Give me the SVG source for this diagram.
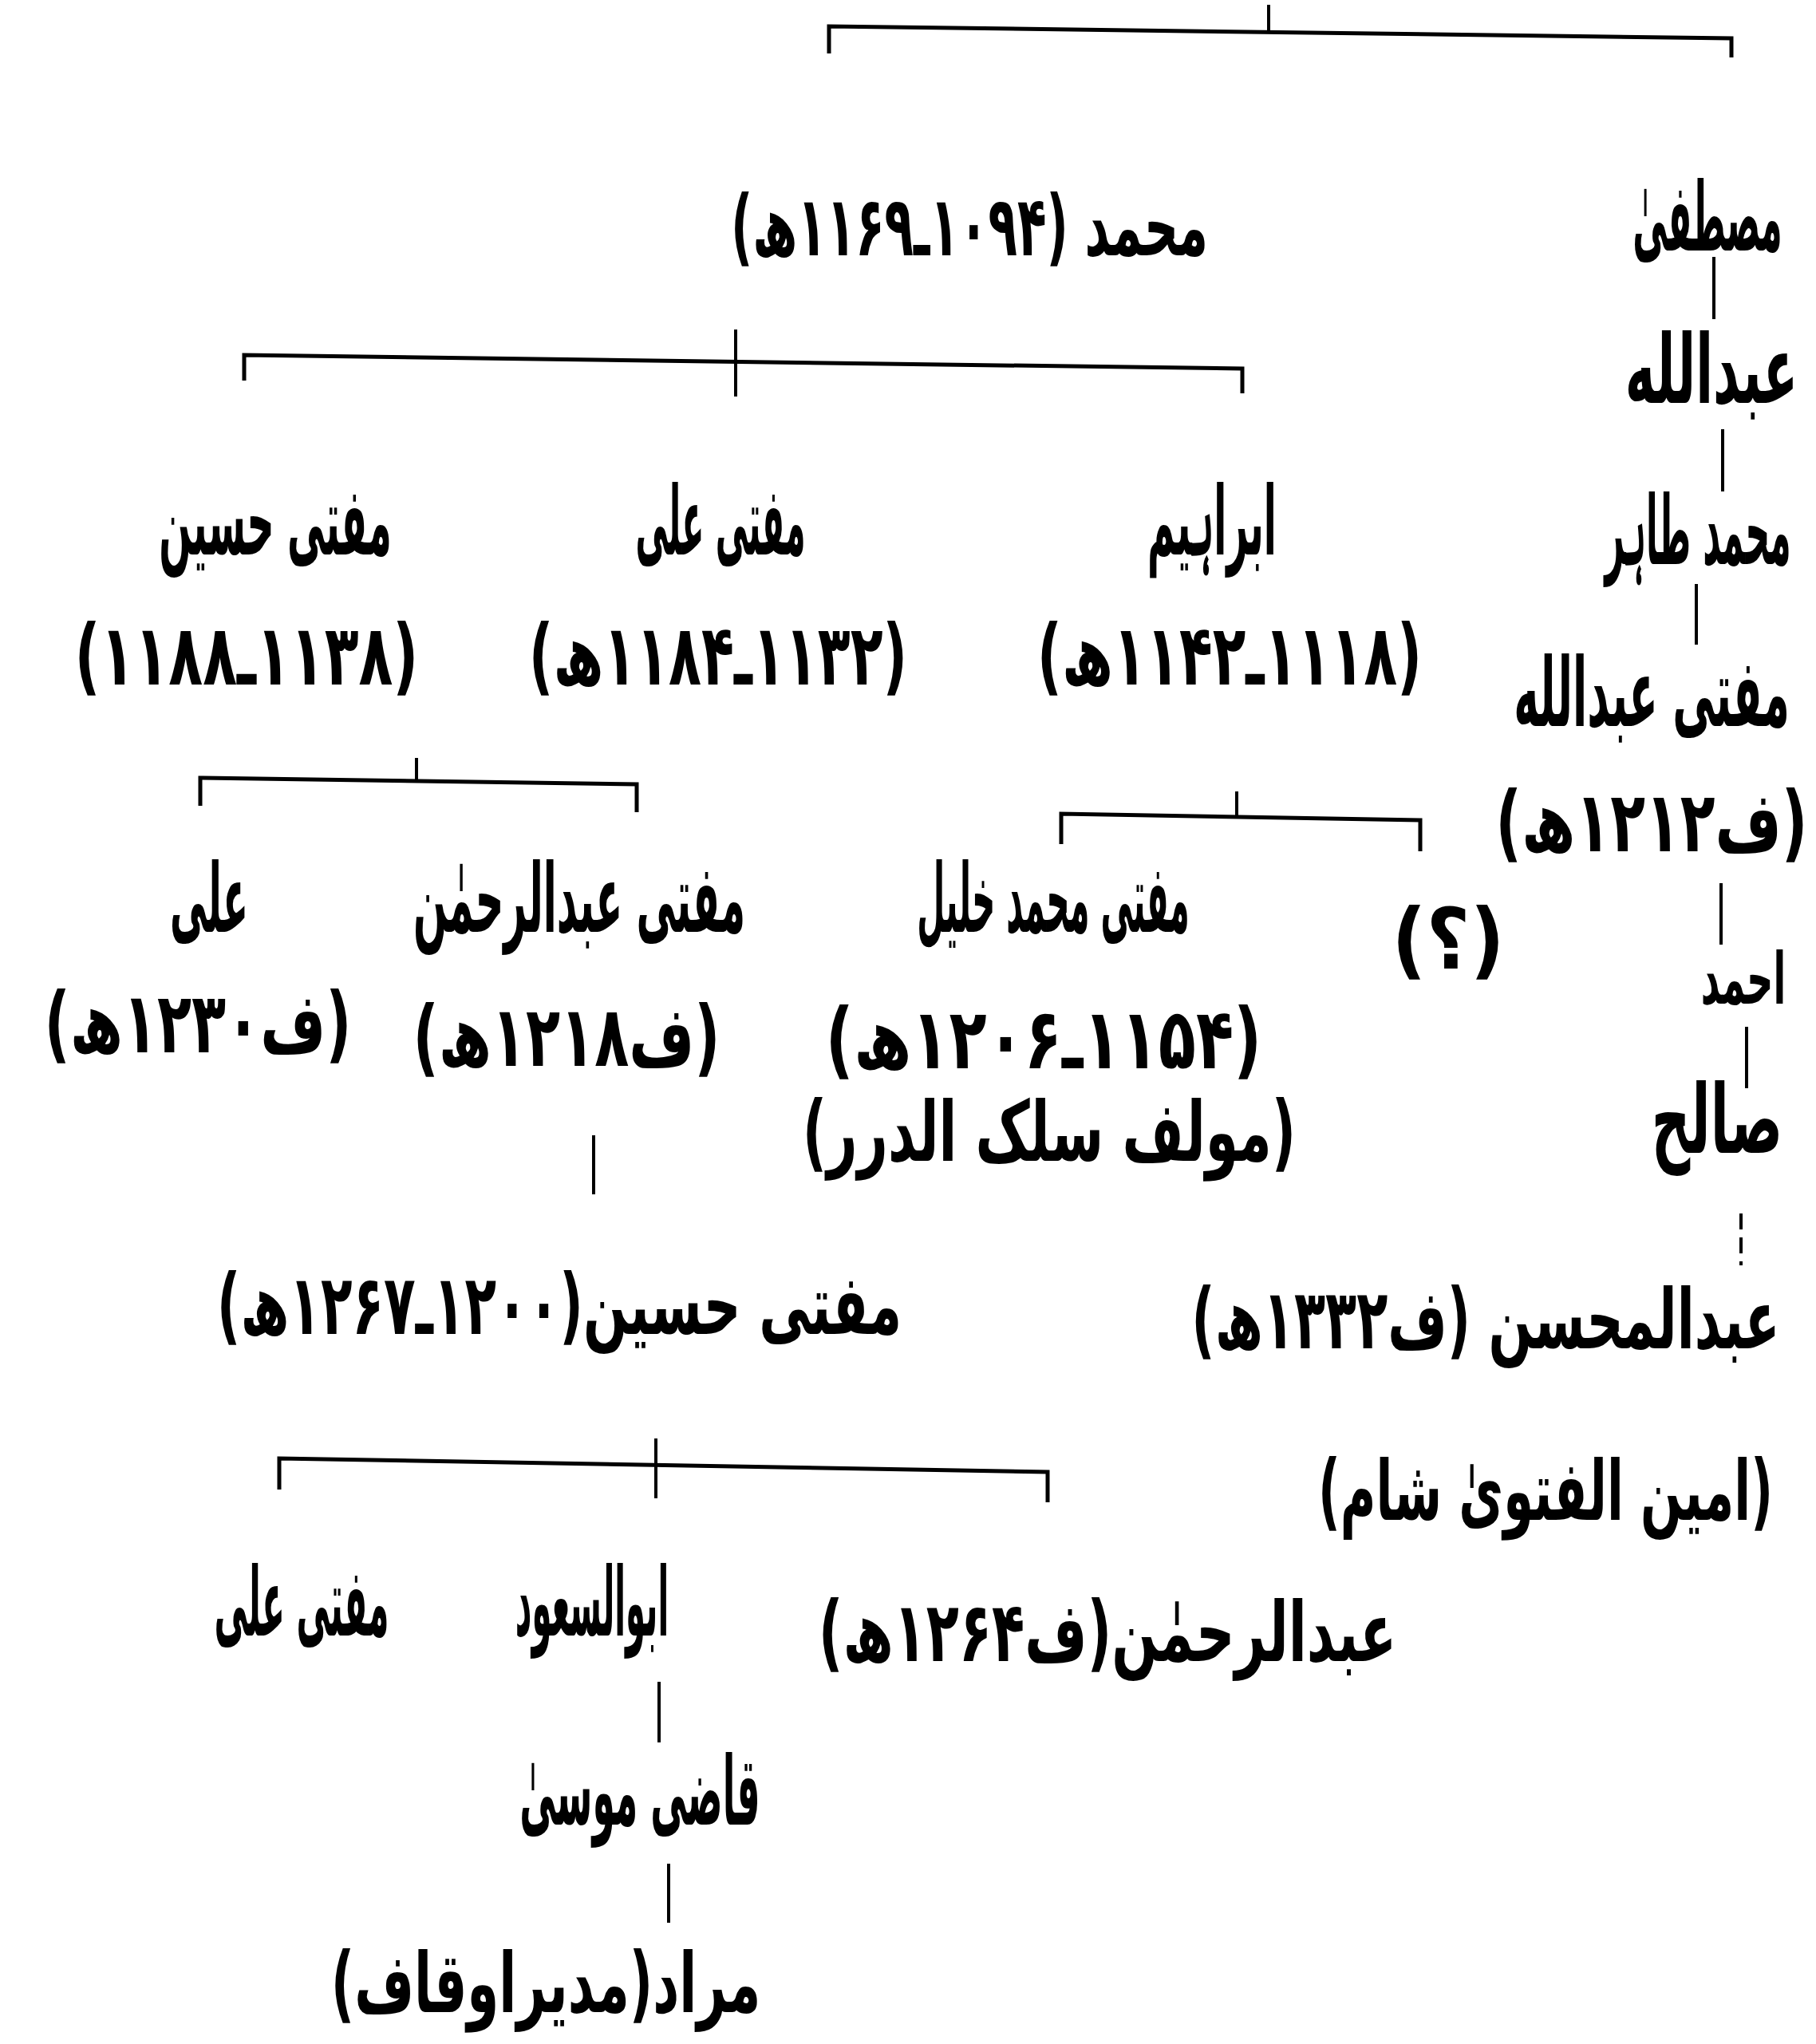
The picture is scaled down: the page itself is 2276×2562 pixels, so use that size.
<svg xmlns="http://www.w3.org/2000/svg" width="2276" height="2562" viewBox="0 0 2276 2562">
<style>
.t{font-family:"DejaVu Sans","Noto Sans",sans-serif;font-weight:bold;fill:#000;direction:rtl;text-anchor:middle}
.n{font-size:100px}
.d{font-size:92px}
.m{font-size:95px}
.c path{stroke:#000;fill:none}
.b{stroke-width:5}
.v{stroke-width:4}
.dash{stroke-dasharray:20 10}
</style>
<rect width="2276" height="2562" fill="#fff"/>
<g id="connectors" class="c">
  <path class="b" d="M1039,67 L1039,33 L2170,48 L2170,72"/>
  <path class="v" d="M1590,6 L1590,40"/>
  <path class="b" d="M306,477 L306,445 L1557,462 L1557,493"/>
  <path class="v" d="M922,413 L922,497"/>
  <path class="b" d="M251,1010 L251,975 L798,983 L798,1018"/>
  <path class="v" d="M522,950 L522,979"/>
  <path class="b" d="M1330,1058 L1330,1020 L1780,1028 L1780,1067"/>
  <path class="v" d="M1550,992 L1550,1024"/>
  <path class="b" d="M350,1867 L350,1828 L1313,1845 L1313,1883"/>
  <path class="v" d="M822,1803 L822,1878"/>
  <path class="v" d="M2148,322 L2148,400"/>
  <path class="v" d="M2159,538 L2159,616"/>
  <path class="v" d="M2126,732 L2126,808"/>
  <path class="v" d="M2157,1107 L2157,1184"/>
  <path class="v" d="M2189,1287 L2189,1364"/>
  <path class="v dash" d="M2182,1521 L2182,1586"/>
  <path class="v" d="M744,1423 L744,1497"/>
  <path class="v" d="M826,2108 L826,2184"/>
  <path class="v" d="M838,2336 L838,2410"/>
</g>
<g id="n-mustafa"><text class="t n" transform="translate(2140,314) scale(0.435,1.2)">مصطفیٰ</text></g>
<g id="n-abdullah"><text class="t n" transform="translate(2145,505) scale(0.636,1.2)">عبدالله</text></g>
<g id="n-muhammad-tahir"><text class="t n" transform="translate(2128,707) scale(0.427,1.2)">محمد طاہر</text></g>
<g id="n-mufti-abdullah">
  <text class="t n" transform="translate(2070,910) scale(0.531,1.2)">مفتی عبدالله</text>
  <text class="t d" transform="translate(2070,1067) scale(0.78,1.15)">(ف۱۲۱۲ھ)</text>
</g>
<g id="n-ahmad"><text class="t n" transform="translate(2185,1258) scale(0.46,0.9)">احمد</text></g>
<g id="n-salih"><text class="t n" transform="translate(2152,1445) scale(0.675,1.2)">صالح</text></g>
<g id="n-abdulmuhsin">
  <text class="t m" transform="translate(1862,1690) scale(0.675,1.1)">عبدالمحسن (ف۱۳۳۲ھ)</text>
  <text class="t m" transform="translate(1937,1905) scale(0.641,1.1)">(امین الفتویٰ شام)</text>
</g>
<g id="n-muhammad"><text class="t m" transform="translate(1215,320) scale(0.629,1.1)">محمد (۱۰۹۴ـ۱۱۶۹ھ)</text></g>
<g id="n-ibrahim">
  <text class="t n" transform="translate(1519,695) scale(0.468,1.2)">ابراہیم</text>
  <text class="t d" transform="translate(1541,858) scale(0.741,1.15)">(۱۱۱۸ـ۱۱۴۲ھ)</text>
</g>
<g id="n-mufti-ali-1">
  <text class="t n" transform="translate(903,695) scale(0.409,1.2)">مفتی علی</text>
  <text class="t d" transform="translate(900,858) scale(0.729,1.15)">(۱۱۳۲ـ۱۱۸۴ھ)</text>
</g>
<g id="n-mufti-husayn-1">
  <text class="t n" transform="translate(345,695) scale(0.474,1.2)">مفتی حسین</text>
  <text class="t d" transform="translate(309,858) scale(0.763,1.15)">(۱۱۳۸ـ۱۱۸۸)</text>
</g>
<g id="n-mufti-muhammad-khalil">
  <text class="t n" transform="translate(1320,1168) scale(0.403,1.2)">مفتی محمد خلیل</text>
  <text class="t d" transform="translate(1308,1339) scale(0.84,1.15)">(۱۱۵۴ـ۱۲۰۶ھ)</text>
  <text class="t m" transform="translate(1315,1455) scale(0.701,1.1)">(مولف سلک الدرر)</text>
</g>
<g id="n-unknown"><text class="t d" transform="translate(1815,1214) scale(1.03,1.15)">(؟)</text></g>
<g id="n-mufti-abdurrahman">
  <text class="t n" transform="translate(726,1168) scale(0.495,1.2)">مفتی عبدالرحمٰن</text>
  <text class="t d" transform="translate(710,1336) scale(0.767,1.15)">(ف۱۲۱۸ھ)</text>
</g>
<g id="n-ali">
  <text class="t n" transform="translate(262,1168) scale(0.466,1.2)">علی</text>
  <text class="t d" transform="translate(248,1319) scale(0.767,1.15)">(ف۱۲۳۰ھ)</text>
</g>
<g id="n-mufti-husayn-2"><text class="t m" transform="translate(701,1672) scale(0.683,1.1)">مفتی حسین(۱۲۰۰ـ۱۲۶۷ھ)</text></g>
<g id="n-mufti-ali-2"><text class="t n" transform="translate(378,2050) scale(0.42,1.2)">مفتی علی</text></g>
<g id="n-abussuud"><text class="t n" transform="translate(742,2050) scale(0.402,1.2)">ابوالسعود</text></g>
<g id="n-abdurrahman"><text class="t m" transform="translate(1388,2082) scale(0.709,1.1)">عبدالرحمٰن(ف۱۲۶۴ھ)</text></g>
<g id="n-qazi-musa"><text class="t n" transform="translate(802,2287) scale(0.457,1.2)">قاضی موسیٰ</text></g>
<g id="n-murad"><text class="t m" transform="translate(684,2522) scale(0.678,1.1)">مراد(مدیراوقاف)</text></g>
</svg>
